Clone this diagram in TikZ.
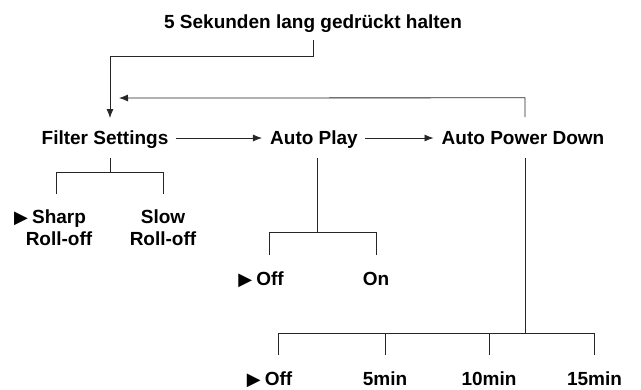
\documentclass[tikz,border=0pt]{standalone}
\usepackage{fontspec}
\setmainfont{Liberation Sans}
\newfontfamily\simbolos{DejaVu Sans}
\usepackage{tikz}
\usetikzlibrary{arrows.meta}
\usetikzlibrary{positioning}

\newcommand{\marca}{\llap{\smash{\raisebox{0.5pt}{\simbolos\fontsize{18}{18}\selectfont ▶}}\hspace{4pt}}}

\begin{document}
\begin{tikzpicture}[x=1pt,y=-1pt,
        menu/.style={font=\bfseries\fontsize{19}{22}\selectfont, inner sep=0pt, text height=13.6pt, text depth=0pt},
        opcion/.style={font=\bfseries\fontsize{19}{22}\selectfont, inner sep=0pt, anchor=north, align=center},
        linea/.style={line width=0.8pt, draw=black!85},
        flecha/.style={linea, -{Latex[length=9pt,width=7pt]}}]
        \useasboundingbox (0,0) rectangle (641,389);

        % Titulo
        \node[menu] (titulo) at (313,22) {5 Sekunden lang gedrückt halten};

        % Menu principal
        \node[menu] (filtro) at (105,138) {Filter Settings};
        \node[menu] (play) at (314,138) {Auto Play};
        \node[menu] (apd) at (523,138) {Auto Power Down};

        % Opciones
        \node[opcion] (sharp) at (59,210) {\marca Sharp\\Roll-off};
        \node[opcion] (slow) at (163,210) {Slow\\Roll-off};
        \node[opcion] (off1) at (270,272) {\marca Off};
        \node[opcion] (on) at (376,272) {On};
        \node[opcion] (off2) at (278.5,372) {\marca Off};
        \node[opcion] (min5) at (385,372) {5min};
        \node[opcion] (min10) at (489,372) {10min};
        \node[opcion] (min15) at (594.5,372) {15min};
        \coordinate (retorno) at (119,98);

        % Conexiones
        \draw[flecha, shorten <=11pt, shorten >=13pt] (titulo.south) -- ++(0,27.2) -| ([xshift=5pt]filtro.north);
        \draw[flecha, shorten <=14pt] ([xshift=2pt]apd.north) -- ++(0,-33.2) -- (retorno);
        \draw[flecha, shorten <=7pt, shorten >=8pt] (filtro) -- (play);
        \draw[flecha, shorten <=7pt, shorten >=8pt] (play) -- (apd);

        \draw[linea, shorten <=13pt, shorten >=16pt] ([xshift=5pt]filtro.south) -- ++(0,27.2) -| ([xshift=-3pt]sharp.north);
        \draw[linea, shorten <=13pt, shorten >=16pt] ([xshift=5pt]filtro.south) -- ++(0,27.2) -| (slow.north);

        \draw[linea, shorten <=13pt, shorten >=17pt] ([xshift=3pt]play.south) -- ++(0,87.2) -| ([xshift=-1pt]off1.north);
        \draw[linea, shorten <=13pt, shorten >=17pt] ([xshift=3pt]play.south) -- ++(0,87.2) -| (on.north);

        \draw[linea, shorten <=13pt, shorten >=17pt] ([xshift=2pt]apd.south) -- ++(0,188.2) -| (off2.north);
        \draw[linea, shorten <=13pt, shorten >=17pt] ([xshift=2pt]apd.south) -- ++(0,188.2) -| (min5.north);
        \draw[linea, shorten <=13pt, shorten >=17pt] ([xshift=2pt]apd.south) -- ++(0,188.2) -| (min10.north);
        \draw[linea, shorten <=13pt, shorten >=17pt] ([xshift=2pt]apd.south) -- ++(0,188.2) -| (min15.north);
    \end{tikzpicture}
\end{document}
